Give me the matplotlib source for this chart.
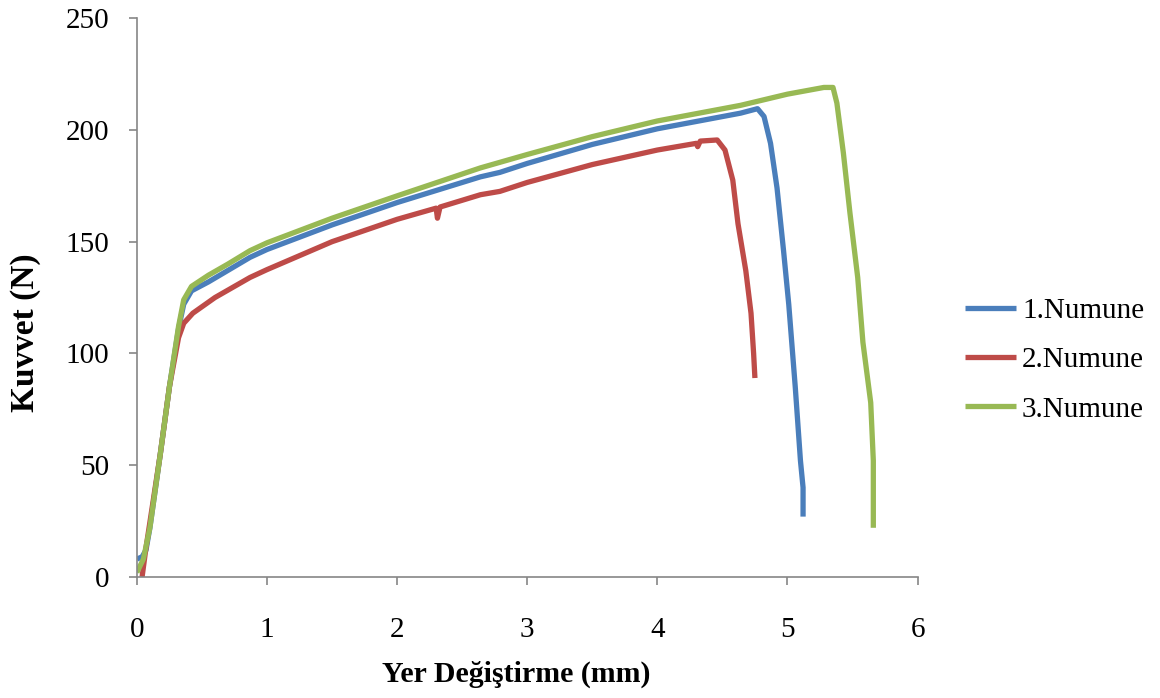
import numpy as np
import matplotlib.pyplot as plt

# values
x1 = [0, 0.04, 0.07, 0.10, 0.18, 0.25, 0.32, 0.36, 0.42, 0.55, 0.87, 1.0, 1.5, 2.0, 2.64, 2.79, 3.0, 3.5, 4.0,
      4.64, 4.77, 4.82, 4.87, 4.92, 4.97, 5.01, 5.06, 5.10, 5.12, 5.12]
y1 = [8, 9, 12, 22, 55, 85, 111, 122, 128, 132, 143, 146.5, 157.5, 167.5, 179, 181, 185, 193.5, 200.5,
      207.5, 209.5, 206, 194, 174, 146, 122, 85, 52, 40, 27]

x2 = [0.04, 0.07, 0.18, 0.25, 0.32, 0.36, 0.43, 0.6, 0.87, 1.0, 1.5, 2.0, 2.3, 2.31, 2.33, 2.64, 2.79, 3.0,
      3.5, 4.0, 4.3, 4.31, 4.33, 4.46, 4.52, 4.58, 4.62, 4.68, 4.72, 4.74, 4.75]
y2 = [0, 13, 55, 85, 107, 113.5, 118, 125, 134, 137.5, 150, 160, 165, 160.5, 165.5, 171, 172.5, 176.5,
      184.5, 191, 194, 192.5, 195, 195.5, 191, 177.5, 158, 137, 118, 100, 89]

x3 = [0, 0.05, 0.10, 0.18, 0.25, 0.32, 0.36, 0.42, 0.55, 0.7, 0.87, 1.0, 1.5, 2.0, 2.64, 2.79, 3.0, 3.5,
      4.0, 4.64, 5.0, 5.28, 5.35, 5.38, 5.43, 5.48, 5.54, 5.58, 5.64, 5.66, 5.66]
y3 = [2, 8, 22, 55, 85, 112, 124, 130, 135, 140, 146, 149.5, 160.5, 170.5, 183, 185.5, 189, 197,
      204, 211, 216, 219, 219, 212, 189.6, 163, 134, 105, 78, 52, 22]

labels = ['1.Numune', '2.Numune', '3.Numune']
colors = ['#4A7EBB', '#BE4B48', '#98B954']

plt.rcParams['font.family'] = ['Liberation Serif', 'DejaVu Serif']

fig = plt.figure(figsize=(11.6, 6.98), dpi=100)
ax = fig.add_axes([0.118, 0.1734, 0.673, 0.8006])

for xs, ys, lab, c in zip([x1, x2, x3], [y1, y2, y3], labels, colors):
    ax.plot(xs, ys, color=c, linewidth=3.8, label=lab, solid_capstyle='butt')

ax.set_xlim(0, 6)
ax.set_ylim(0, 250)
ax.set_xticks(np.arange(0, 7, 1))
ax.set_yticks(np.arange(0, 251, 50))

for s in ['top', 'right']:
    ax.spines[s].set_visible(False)
for s in ['left', 'bottom']:
    ax.spines[s].set_color('#868686')
    ax.spines[s].set_linewidth(1.2)
ax.tick_params(direction='out', length=6, width=1.2, color='#868686', labelsize=21)
ax.tick_params(axis='y', pad=14)
ax.tick_params(axis='x', pad=23)

ax.set_xlabel('Yer Değiştirme (mm)', fontsize=21.5, fontweight='bold')
ax.xaxis.set_label_coords(0.486, -0.15)
ax.set_ylabel('Kuvvet (N)', fontsize=24, fontweight='bold')
ax.yaxis.set_label_coords(-0.123, 0.437)

ax.legend(loc='center left', bbox_to_anchor=(0.832, 0.484), bbox_transform=fig.transFigure,
          frameon=False, fontsize=21, handlelength=1.75, handletextpad=0.2, labelspacing=0.78,
          borderpad=0, borderaxespad=0)

fig.savefig('out.png', dpi=100)
